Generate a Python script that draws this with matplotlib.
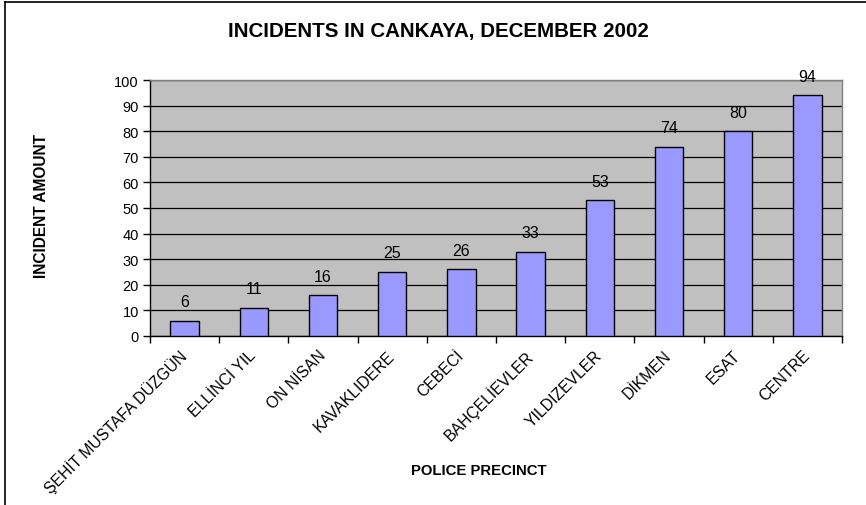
import matplotlib.pyplot as plt
import numpy as np
from matplotlib.lines import Line2D

plt.rcParams['font.family'] = ['Liberation Sans', 'DejaVu Sans']

# Incidents per police precinct
precincts = ["ŞEHİT MUSTAFA DÜZGÜN", "ELLİNCİ YIL", "ON NİSAN", "KAVAKLIDERE",
             "CEBECİ", "BAHÇELİEVLER", "YILDIZEVLER", "DİKMEN", "ESAT", "CENTRE"]
incidents = [6, 11, 16, 25, 26, 33, 53, 74, 80, 94]

W, H = 866, 506
fig = plt.figure(figsize=(W / 100, H / 100), dpi=100)
ax = fig.add_axes([150 / W, 1 - 337 / H, 692 / W, 256 / H])

x = np.arange(len(precincts))
bars = ax.bar(x, incidents, width=0.41, color='#9999FF', edgecolor='black',
              linewidth=1.0, zorder=3)

ax.set_facecolor('#C0C0C0')
ax.set_xlim(-0.5, len(precincts) - 0.5)
ax.set_ylim(0, 100)
ax.set_yticks(np.arange(0, 101, 10))
ax.yaxis.grid(True, color='black', linewidth=0.9, zorder=1)
ax.set_axisbelow(True)

# category labels hang from the bar centres, ticks sit between categories
ax.set_xticks(x)
ax.set_xticklabels(precincts, rotation=45, ha='right', va='center',
                   rotation_mode='anchor', fontsize=11.3)
ax.tick_params(axis='x', which='major', length=0, pad=12)
ax.set_xticks(np.arange(-0.5, len(precincts)), minor=True)
ax.tick_params(axis='x', which='minor', length=5, width=1, color='black',
               direction='out')
ax.tick_params(axis='y', length=5, width=1, color='black', labelsize=10.5, pad=3)

for side in ('top', 'right'):
    ax.spines[side].set_color('#808080')
    ax.spines[side].set_linewidth(1)
for side in ('left', 'bottom'):
    ax.spines[side].set_color('black')
    ax.spines[side].set_linewidth(1)

for b, v in zip(bars, incidents):
    ax.annotate(str(v), (b.get_x() + b.get_width() / 2, v),
                xytext=(0, 19), textcoords='offset pixels',
                ha='center', va='center', fontsize=11.5, clip_on=False)

fig.text(438 / W, 1 - 32 / H, "INCIDENTS IN CANKAYA, DECEMBER 2002",
         ha='center', va='center', fontsize=14.8, fontweight='bold')
fig.text(42 / W, 1 - 206 / H, "INCIDENT AMOUNT", rotation=90,
         ha='center', va='center', fontsize=11.2, fontweight='bold')
fig.text(479 / W, 1 - 471 / H, "POLICE PRECINCT",
         ha='center', va='center', fontsize=10.7, fontweight='bold')

# chart frame: top and left edges
fig.add_artist(Line2D([5 / W, 1], [1 - 3 / H, 1 - 3 / H], color='black',
                      linewidth=1.2, transform=fig.transFigure))
fig.add_artist(Line2D([5 / W, 5 / W], [0, 1 - 3 / H], color='black',
                      linewidth=1.2, transform=fig.transFigure))

fig.savefig("out.png", dpi=100)
